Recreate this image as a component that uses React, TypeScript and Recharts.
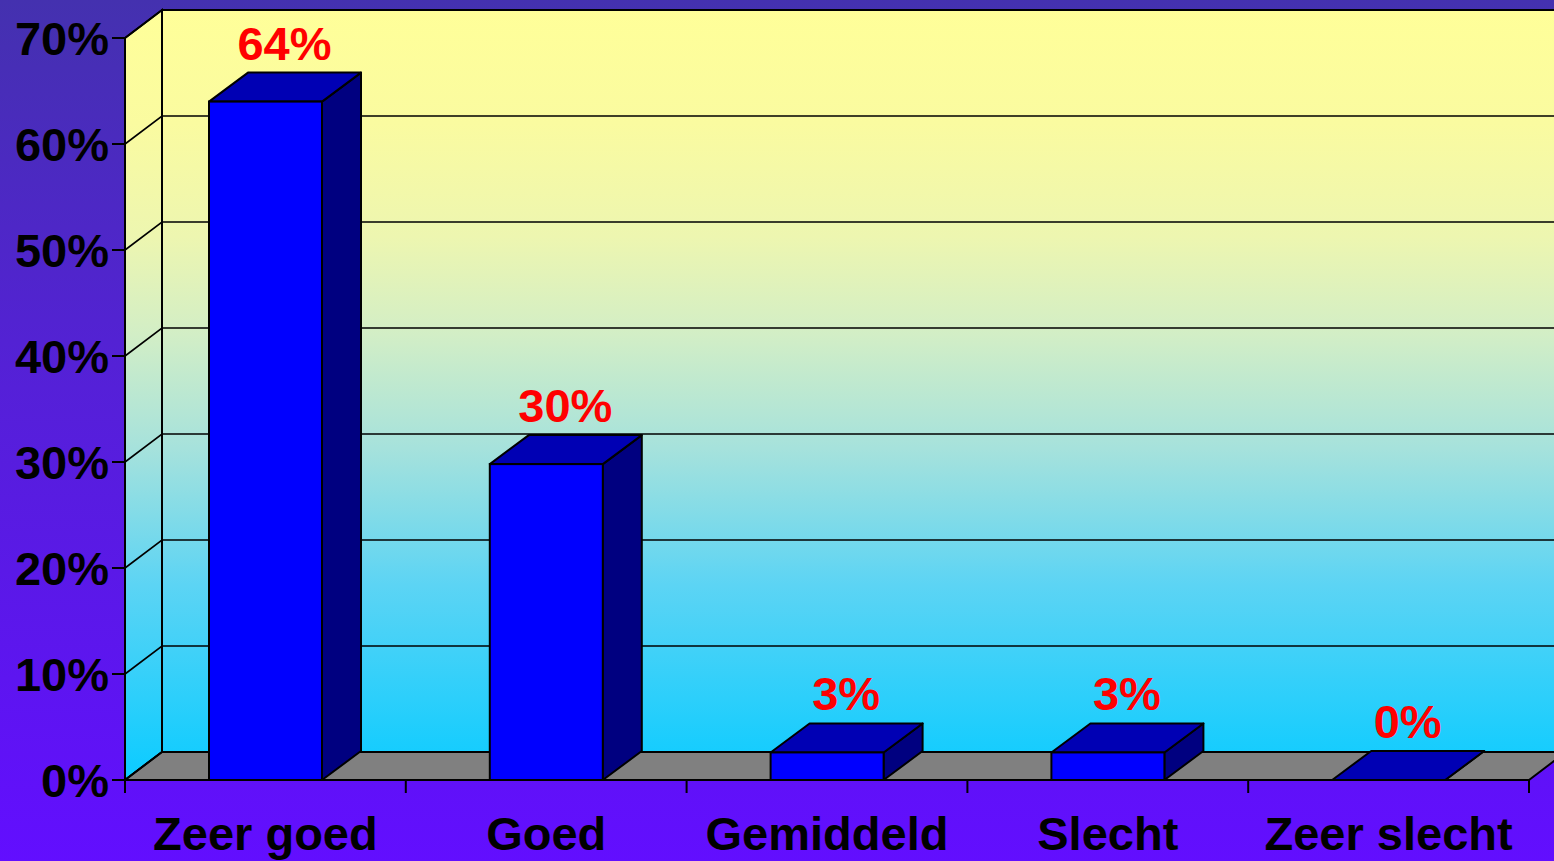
import React from 'react'
import { BarChart, Bar, XAxis, YAxis, CartesianGrid } from 'recharts'

const categories = ['Zeer goed', 'Goed', 'Gemiddeld', 'Slecht', 'Zeer slecht']
const shares = [64, 29.8, 2.6, 2.6, 0]
const yTicks = [0, 10, 20, 30, 40, 50, 60, 70]

const data = categories.map((name, i) => ({ name, share: shares[i] }))

// layout
const W = 1554
const H = 861
const PLOT_LEFT = 125
const PLOT_TOP = 38
const PLOT_RIGHT = 1529
const PLOT_BOTTOM = 780
const WALL_DX = 37
const WALL_DY = 28
const BAR_DX = 39
const BAR_DY = 29
const BAND = (PLOT_RIGHT - PLOT_LEFT) / categories.length
const FONT = "'Liberation Sans', Arial, sans-serif"
const FS = 47

function Bar3D(props: any) {
    const { x, y, width, height, payload } = props
    const w = width
    const h = Math.max(0, height)
    return (
        <g>
            <polygon
                points={`${x + w},${y} ${x + w + BAR_DX},${y - BAR_DY} ${x + w + BAR_DX},${y + h - BAR_DY} ${x + w},${y + h}`}
                fill="#000080"
                stroke="#000"
                strokeWidth={2}
                strokeLinejoin="round"
            />
            <polygon
                points={`${x},${y} ${x + BAR_DX},${y - BAR_DY} ${x + w + BAR_DX},${y - BAR_DY} ${x + w},${y}`}
                fill="#0000B4"
                stroke="#000"
                strokeWidth={2}
                strokeLinejoin="round"
            />
            {h > 0 && (
                <rect x={x} y={y} width={w} height={h} fill="#0000FF" stroke="#000" strokeWidth={2} />
            )}
            <text
                x={x + w / 2 + 19}
                y={y - BAR_DY - 13}
                textAnchor="middle"
                fill="#FF0000"
                fontSize={FS}
                fontWeight={700}
                fontFamily={FONT}
            >
                {`${Math.round(payload.share)}%`}
            </text>
        </g>
    )
}

function CategoryTick(props: any) {
    const { x, y, payload, index } = props
    const left = x - BAND / 2
    return (
        <g>
            <line x1={left} y1={y} x2={left} y2={y + 13} stroke="#000" strokeWidth={2} />
            {index === categories.length - 1 && (
                <line x1={x + BAND / 2} y1={y} x2={x + BAND / 2} y2={y + 13} stroke="#000" strokeWidth={2} />
            )}
            <text x={x} y={y + 70} textAnchor="middle" fill="#000" fontSize={FS} fontWeight={700} fontFamily={FONT}>
                {payload.value}
            </text>
        </g>
    )
}

function WallLine(props: any) {
    const { x1, y1, x2 } = props
    return (
        <path
            key={`wl-${y1}`}
            d={`M${x1},${y1} L${x1 + WALL_DX},${y1 - WALL_DY} L${x2 + WALL_DX},${y1 - WALL_DY}`}
            fill="none"
            stroke="#000"
            strokeWidth={1.6}
        />
    )
}

export default function App() {
    const backTop = PLOT_TOP - WALL_DY
    const backBottom = PLOT_BOTTOM - WALL_DY
    return (
        <div
            style={{
                position: 'absolute',
                left: 0,
                top: 0,
                width: W,
                height: H,
                overflow: 'hidden',
                fontFamily: FONT,
                background: 'linear-gradient(180deg, #4431AF 0%, #5520D8 45%, #620EFF 100%)'
            }}
        >
            <svg width={W} height={H} style={{ position: 'absolute', left: 0, top: 0 }}>
                <defs>
                    <linearGradient id="wall" gradientUnits="userSpaceOnUse" x1="0" y1={backTop} x2="0" y2={PLOT_BOTTOM - 14}>
                        <stop offset="0" stopColor="#FFFF99" />
                        <stop offset="0.15" stopColor="#FAFBA0" />
                        <stop offset="0.3" stopColor="#EDF6B0" />
                        <stop offset="0.43" stopColor="#D2EEC6" />
                        <stop offset="0.58" stopColor="#A6E2DC" />
                        <stop offset="0.76" stopColor="#5CD4F4" />
                        <stop offset="1" stopColor="#10CCFF" />
                    </linearGradient>
                </defs>
                <polygon
                    points={`${PLOT_LEFT},${PLOT_TOP} ${PLOT_LEFT + WALL_DX},${backTop} ${PLOT_LEFT + WALL_DX},${backBottom} ${PLOT_LEFT},${PLOT_BOTTOM}`}
                    fill="url(#wall)"
                    stroke="#000"
                    strokeWidth={2}
                />
                <rect
                    x={PLOT_LEFT + WALL_DX}
                    y={backTop}
                    width={W}
                    height={backBottom - backTop}
                    fill="url(#wall)"
                    stroke="#000"
                    strokeWidth={2}
                />
                <polygon
                    points={`${PLOT_LEFT},${PLOT_BOTTOM} ${PLOT_LEFT + WALL_DX},${backBottom} ${PLOT_RIGHT + WALL_DX},${backBottom} ${PLOT_RIGHT},${PLOT_BOTTOM}`}
                    fill="#808080"
                    stroke="#000"
                    strokeWidth={2}
                />
            </svg>
            <div style={{ position: 'absolute', left: 0, top: 0 }}>
                <BarChart
                    width={W}
                    height={H}
                    data={data}
                    margin={{ top: PLOT_TOP, right: W - PLOT_RIGHT, bottom: 10, left: 10 }}
                >
                    <CartesianGrid vertical={false} horizontal={WallLine} />
                    <XAxis
                        dataKey="name"
                        height={H - PLOT_BOTTOM - 10}
                        axisLine={{ stroke: '#000', strokeWidth: 2 }}
                        tickLine={false}
                        tickSize={0}
                        tickMargin={0}
                        interval={0}
                        tick={<CategoryTick />}
                    />
                    <YAxis
                        width={PLOT_LEFT - 10}
                        domain={[0, 70]}
                        ticks={yTicks}
                        tickFormatter={(v: number) => `${v}%`}
                        axisLine={{ stroke: '#000', strokeWidth: 2 }}
                        tickLine={{ stroke: '#000', strokeWidth: 2 }}
                        tickSize={13}
                        tickMargin={3}
                        tick={{ fill: '#000', fontSize: FS, fontWeight: 700, fontFamily: FONT }}
                    />
                    <Bar dataKey="share" barSize={113} shape={<Bar3D />} isAnimationActive={false} />
                </BarChart>
            </div>
        </div>
    )
}
